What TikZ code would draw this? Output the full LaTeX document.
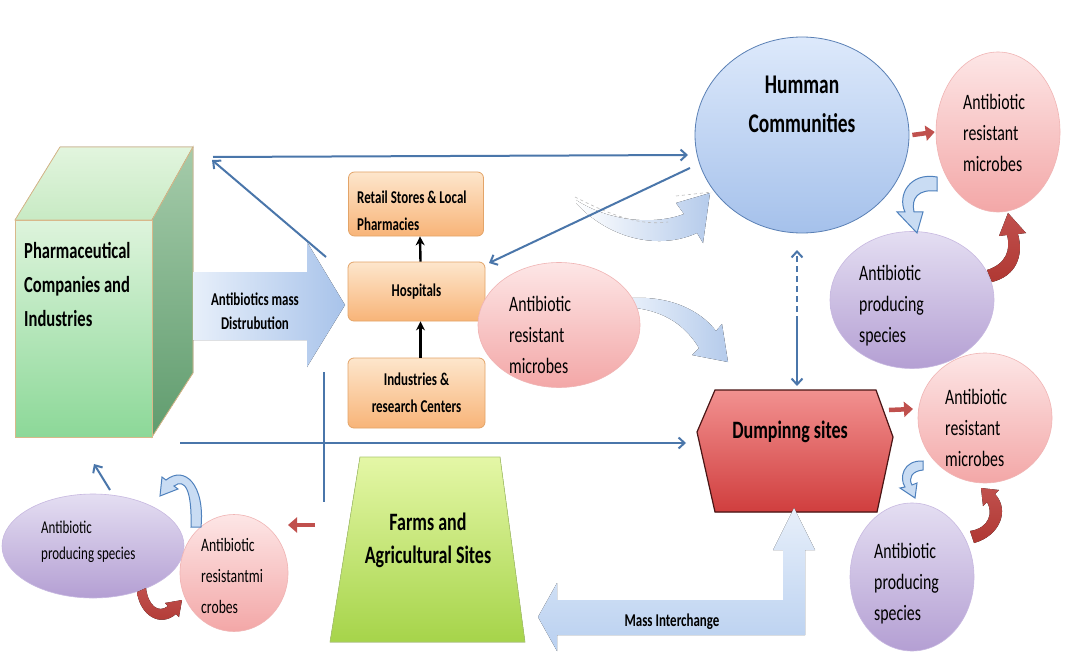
\documentclass[tikz,border=0pt]{standalone}
\usepackage{fontspec}
\setmainfont{Carlito}[FakeStretch=0.72]
\usetikzlibrary{shapes.geometric,arrows.meta,calc}
\definecolor{lineblue}{HTML}{4A76AA}
\definecolor{redA}{HTML}{C0504D}
\definecolor{darkred}{HTML}{B03833}
\definecolor{pinkT}{HTML}{FDE6E6}
\definecolor{pinkB}{HTML}{F3A7A7}
\definecolor{pinkD}{HTML}{F0B4B4}
\definecolor{purT}{HTML}{E4DEF2}
\definecolor{purB}{HTML}{B49FD3}
\definecolor{purD}{HTML}{C7B8E0}
\definecolor{orT}{HTML}{FDE6CC}
\definecolor{orB}{HTML}{F8B478}
\definecolor{orD}{HTML}{E3A468}
\definecolor{lbT}{HTML}{E7EFFA}
\definecolor{lbB}{HTML}{B5CBEB}
\definecolor{holF}{HTML}{C9DCF3}
\definecolor{holD}{HTML}{4F81BD}
\definecolor{humT}{HTML}{DDE9FB}
\definecolor{humB}{HTML}{A5C1EB}
\definecolor{humD}{HTML}{5A80B5}
\definecolor{hexT}{HTML}{F29190}
\definecolor{hexB}{HTML}{D03E3E}
\definecolor{hexD}{HTML}{4A1515}
\definecolor{cubeD}{HTML}{D8B88A}
\begin{document}
\begin{tikzpicture}[x=1pt,y=-1pt,
  thinblue/.style={draw=lineblue, line width=2pt},
  barb/.style={-{Straight Barb[length=6pt,width=11pt]}},
  redarr/.style={draw=redA, line width=4.5pt, -{Triangle[length=9pt,width=15pt]}},
  pinkball/.style={ellipse, draw=pinkD, line width=0.6pt, top color=pinkT, bottom color=pinkB, inner sep=0pt},
  purball/.style={ellipse, draw=purD, line width=0.6pt, top color=purT, bottom color=purB, inner sep=0pt},
  orbox/.style={rectangle, rounded corners=6pt, draw=orD, line width=0.8pt, top color=orT, bottom color=orB, inner sep=0pt},
  lbl/.style={inner sep=0pt, align=left, text=black},
  clbl/.style={inner sep=0pt, align=center, text=black},
  ellfont/.style={font=\fontsize{22}{31}\selectfont},
  hollow/.style={fill=holF, draw=holD, line width=1pt},
  redcurve/.style={top color=redA, bottom color=darkred, draw=none},
  blackarr/.style={line width=2.4pt, -{Stealth[length=9pt,width=9pt]}}
]
\useasboundingbox[fill=white] (0,0) rectangle (1065,655);

% light curved arrows
\fill[left color=white, right color=lbB] (576,200) .. controls (610,222) and (655,225) .. (684,214) -- (676,203) -- (710,193) -- (703,243) -- (697,233) .. controls (660,250) and (610,240) .. (576,203) -- cycle;
\draw[gray!55, dashed, line width=0.6pt] (575,197) .. controls (610,215) and (640,226) .. (668,222);
\draw[gray!55, dashed, line width=0.6pt] (676,196) -- (712,192);
\fill[left color=lbT, right color=lbB] (632,298) .. controls (670,296) and (700,310) .. (716,331) -- (722,324) -- (728,362) -- (692,355) -- (699,348) .. controls (685,325) and (665,312) .. (636,308) -- cycle;

% coordinates for thin connectors
\coordinate (pA) at (213,157);
\coordinate (hA) at (688,155);
\coordinate (hD) at (326,257);
\coordinate (pB) at (212,160);
\coordinate (hB) at (690,168);
\coordinate (hospNE) at (489,263);
\coordinate (vT) at (324,372);
\coordinate (vB) at (324,502);
\coordinate (lL) at (180,443);
\coordinate (lR) at (686,443);
\coordinate (dTop) at (797,250);
\coordinate (dMid) at (797,322);
\coordinate (dBot) at (797,386);
\coordinate (sA) at (110,490);
\coordinate (sB) at (94,464);

\draw[thinblue, barb] (pA) -- (hA);
\draw[thinblue, barb] (hD) -- (pB);
\draw[thinblue, barb] (hB) -- (hospNE);
\draw[thinblue] (vT) -- (vB);
\draw[thinblue, barb] (lL) -- (lR);
\draw[thinblue, barb, dash pattern=on 6pt off 4pt] (dMid) -- (dTop);
\draw[thinblue, barb] (dMid) -- (dBot);
\draw[thinblue, barb] (sA) -- (sB);

% cube
\filldraw[draw=cubeD, line width=0.8pt, top color={rgb,255:red,226;green,245;blue,222}, bottom color={rgb,255:red,200;green,234;blue,196}] (15,220) -- (60,147) -- (193,147) -- (152,220) -- cycle;
\filldraw[draw=cubeD, line width=0.8pt, top color={rgb,255:red,165;green,203;blue,170}, bottom color={rgb,255:red,96;green,156;blue,110}] (152,220) -- (193,147) -- (193,373) -- (152,437) -- cycle;
\node[rectangle, draw=cubeD, line width=0.8pt, minimum width=137pt, minimum height=217pt, inner sep=0pt, top color={rgb,255:red,222;green,244;blue,220}, bottom color={rgb,255:red,140;green,216;blue,152}] (pharma) at (83.5,328.5) {};
\node[lbl, anchor=west, font=\fontsize{23}{34}\selectfont\bfseries] (pharmatxt) at (24,284) {Pharmaceutical\\Companies and\\Industries};

% big distribution arrow
\fill[left color=lbT, right color={rgb,255:red,168;green,195;blue,234}] (193,272) -- (307,272) -- (307,242) -- (345,305) -- (307,367) -- (307,340) -- (193,340) -- cycle;
\node[clbl, font=\fontsize{18}{24}\selectfont\bfseries] (dist) at (255,311) {Antibiotics mass\\Distrubution};

% orange boxes
\node[orbox, minimum width=135pt, minimum height=64pt] (retail) at (416,204) {};
\node[lbl, anchor=west, font=\fontsize{18}{27}\selectfont\bfseries] at (357,211) {Retail Stores \& Local\\Pharmacies};
\node[orbox, minimum width=137pt, minimum height=59pt, font=\fontsize{18}{24}\selectfont\bfseries] (hosp) at (416.5,291.5) {Hospitals};
\node[orbox, minimum width=137pt, minimum height=70pt, align=center, font=\fontsize{18}{27}\selectfont\bfseries] (indus) at (416.5,393) {Industries \&\\research Centers};
\draw[blackarr] ([xshift=4pt]hosp.north) -- ([xshift=4pt]retail.south);
\draw[blackarr] ([xshift=4pt]indus.north) -- ([xshift=4pt]hosp.south);

% middle pink ellipse
\node[pinkball, minimum width=162pt, minimum height=125pt] (mres) at (559,325) {};
\node[lbl, ellfont, anchor=west] at (509,335) {Antibiotic\\resistant\\microbes};

% Humman communities
\node[ellipse, minimum width=214pt, minimum height=196pt, draw=humD, line width=0.8pt, top color=humT, bottom color=humB, inner sep=0pt] (hum) at (802,135) {};
\node[clbl, font=\fontsize{27}{39}\selectfont\bfseries] (humtxt) at (802,104) {Humman\\Communities};

% top right cluster
\node[pinkball, minimum width=124pt, minimum height=160pt] (tpink) at (998,132) {};
\node[lbl, ellfont, anchor=west] at (963,133) {Antibiotic\\resistant\\microbes};
\node[purball, minimum width=164pt, minimum height=137pt] (tpur) at (912,300) {};
\node[lbl, ellfont, anchor=west] at (859,306) {Antibiotic\\producing\\species};
\draw[redarr] ([xshift=3pt]hum.east) -- ([xshift=-1pt]tpink.west);
\filldraw[hollow] (937,177) .. controls (910,172) and (897,195) .. (905,212) -- (897,212) -- (917,233) -- (923,212) -- (914,212) .. controls (911,198) and (918,189) .. (937,191) -- cycle;
\fill[redcurve] (987,270) .. controls (1006,264) and (1011,250) .. (1007,235) -- (999,236) -- (1008,213) -- (1026,233) -- (1018,234) .. controls (1024,256) and (1016,276) .. (992,282) -- cycle;

% dumping sites
\filldraw[draw=hexD, line width=1.2pt, top color=hexT, bottom color=hexB] (697,432) -- (715,390) -- (876,390) -- (893,437) -- (877,512) -- (715,512) -- cycle;
\node[clbl, font=\fontsize{25}{30}\selectfont\bfseries] (dump) at (790,432) {Dumpinng sites};

% bottom right cluster
\node[pinkball, minimum width=134pt, minimum height=130pt] (bpink) at (985,418) {};
\node[lbl, ellfont, anchor=west] at (945,428) {Antibiotic\\resistant\\microbes};
\node[purball, minimum width=124pt, minimum height=148pt] (bpur) at (912,577) {};
\node[lbl, ellfont, anchor=west] at (874,584) {Antibiotic\\producing\\species};
\coordinate (dR) at (889,410);
\coordinate (bpL) at (913,409);
\draw[redarr] (dR) -- (bpL);
\filldraw[hollow] (923,461) .. controls (903,460) and (899,478) .. (905,487) -- (900,488) -- (915,498) -- (917,483) -- (912,485) .. controls (908,478) and (912,471) .. (923,470) -- cycle;
\fill[redcurve] (970,531) .. controls (990,528) and (993,512) .. (987,502) -- (983,506) -- (981,488) -- (999,490) -- (995,494) .. controls (1010,510) and (1000,536) .. (974,543) -- cycle;

% farms
\filldraw[draw={rgb,255:red,170;green,200;blue,110}, line width=0.6pt, top color={rgb,255:red,228;green,247;blue,166}, bottom color={rgb,255:red,166;green,212;blue,74}] (360,457) -- (500,457) -- (525,642) -- (330,642) -- cycle;
\node[clbl, font=\fontsize{25}{33}\selectfont\bfseries] (farms) at (428,540) {Farms and\\Agricultural Sites};

% mass interchange
\fill[top color=lbT, bottom color={rgb,255:red,185;green,208;blue,240}] (783,550) -- (773,550) -- (794,508) -- (815,550) -- (805,550) -- (805,635) -- (557,635) -- (557,651) -- (538,617) -- (557,583) -- (557,600) -- (783,600) -- cycle;
\node[clbl, font=\fontsize{18}{24}\selectfont\bfseries] (mass) at (672,622) {Mass Interchange};

% bottom left cluster
\node[purball, minimum width=182pt, minimum height=104pt] (lpur) at (93,546) {};
\node[lbl, anchor=west, font=\fontsize{18}{26}\selectfont] at (41,542) {Antibiotic\\producing species};
\node[pinkball, minimum width=108pt, minimum height=117pt] (lpink) at (234,573) {};
\node[lbl, anchor=west, font=\fontsize{19}{31}\selectfont] at (201,576) {Antibiotic\\resistantmi\\crobes};
\coordinate (rS) at (315,525);
\coordinate (rE) at (288,525);
\draw[redarr] (rS) -- (rE);
\filldraw[hollow] (191,527) .. controls (192,490) and (185,478) .. (174,486) -- (178,489) -- (160,496) -- (162,477) -- (166,480) .. controls (185,465) and (205,485) .. (201,527) -- cycle;
\fill[redcurve] (137,592) .. controls (140,615) and (160,628) .. (176,614) -- (179,617) -- (182,600) -- (165,603) -- (168,606) .. controls (158,614) and (148,605) .. (146,588) -- cycle;
\end{tikzpicture}
\end{document}
